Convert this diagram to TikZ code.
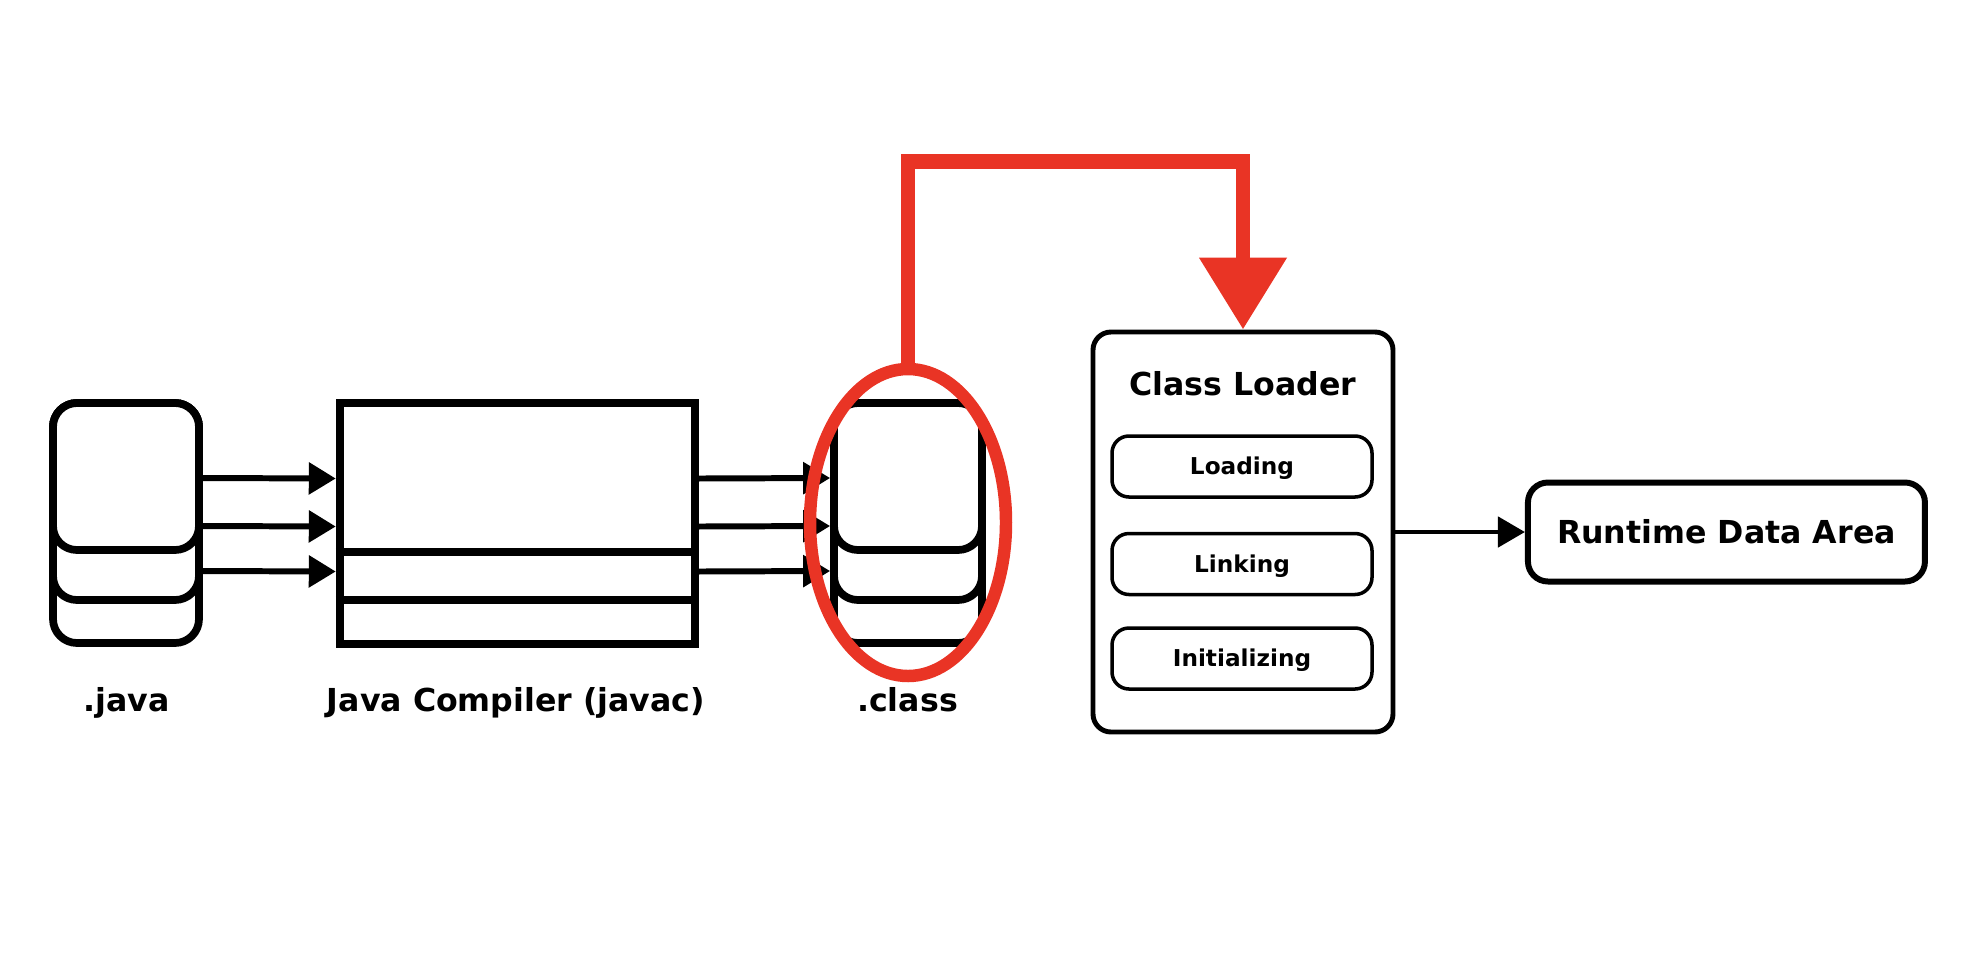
\documentclass[tikz,border=0pt]{standalone}
\usepackage{fontspec}
\setmainfont{DejaVu Sans}
\usetikzlibrary{shapes.geometric,arrows.meta,positioning}
\definecolor{jvmred}{HTML}{E93425}

\begin{document}
\begin{tikzpicture}[
    card/.style={rectangle, draw, line width=2.2pt, rounded corners=0.24cm, fill=white, minimum width=1.46cm, inner sep=0pt},
    arr/.style={line width=1.7pt, -{Triangle[length=0.27cm, width=0.31cm]}},
    filename/.style={font=\bfseries\fontsize{9}{11}\selectfont, anchor=base, inner sep=0pt},
    phase/.style={rectangle, draw, line width=1pt, rounded corners=0.17cm, minimum width=2.6cm, minimum height=0.61cm, inner sep=0pt, font=\bfseries\fontsize{6.6}{8}\selectfont, text height=4.8pt, text depth=0pt}
]
    \useasboundingbox (0,0) rectangle (19.8,-9.78);

    % Source files
    \node[card, minimum height=2.40cm] (javaback) at (1.26,-5.23) {};
    \node[card, minimum height=1.97cm] (javamid) at (1.26,-5.015) {};
    \node[card, minimum height=1.47cm] (javafront) at (1.26,-4.765) {};

    % Compiler
    \node[rectangle, draw, line width=2.4pt, minimum width=3.55cm, minimum height=2.41cm] (compiler) at (5.175,-5.235) {};
    \draw[line width=2.4pt] ([yshift=-0.285cm]compiler.west) -- ([yshift=-0.285cm]compiler.east);
    \draw[line width=2.4pt] ([yshift=-0.765cm]compiler.west) -- ([yshift=-0.765cm]compiler.east);

    % Class files
    \node[card, minimum height=2.40cm, minimum width=1.48cm] (classback) at (9.08,-5.23) {};
    \node[card, minimum height=1.97cm, minimum width=1.48cm] (classmid) at (9.08,-5.015) {};
    \node[card, minimum height=1.47cm, minimum width=1.48cm] (classfront) at (9.08,-4.765) {};

    % Transitions
    \foreach \dy in {0.45,-0.03,-0.48} {
        \draw[arr] ([yshift=\dy cm]javaback.east) -- ([yshift=\dy cm]compiler.west);
        \draw[arr] ([yshift=\dy cm]compiler.east) -- ([yshift=\dy cm]classback.west);
    }

    % Names
    \node[filename] (javaname) at (1.265,-7.11) {.java};
    \node[filename] (compilername) at (5.16,-7.11) {Java Compiler (javac)};
    \node[filename] (classname) at (9.075,-7.11) {.class};

    % Class Loader
    \node[rectangle, draw, rounded corners=0.18cm, line width=1.4pt, minimum width=3cm, minimum height=4cm] (loader) at (12.43,-5.32) {};
    \node[filename] (loadertitle) at ([yshift=-0.655cm]loader.north) {Class Loader};
    \node[phase] (loading) at (12.42,-4.665) {Loading};
    \node[phase] (linking) at (12.42,-5.64) {Linking};
    \node[phase] (initializing) at (12.42,-6.585) {Initializing};

    \node[rectangle, draw, rounded corners=0.2cm, line width=1.7pt, minimum width=3.97cm, minimum height=0.99cm, inner sep=0pt, font=\bfseries\fontsize{9}{11}\selectfont, text height=6.6pt, text depth=0pt, right=1.295cm of loader] (runtime) {Runtime Data Area};
    \draw[line width=1.35pt, -{Triangle[length=0.27cm, width=0.30cm]}] (loader) -- (runtime);

    % Highlight
    \node[ellipse, draw=jvmred, line width=3.55pt, minimum width=1.96cm, minimum height=3.07cm, inner sep=0pt] (ring) at (9.08,-5.225) {};
    \draw[jvmred, line width=4.25pt, -{Triangle[length=0.72cm, width=0.84cm]}] (ring.north) -- ++(0,2.01) -| (loader.north);
\end{tikzpicture}
\end{document}
